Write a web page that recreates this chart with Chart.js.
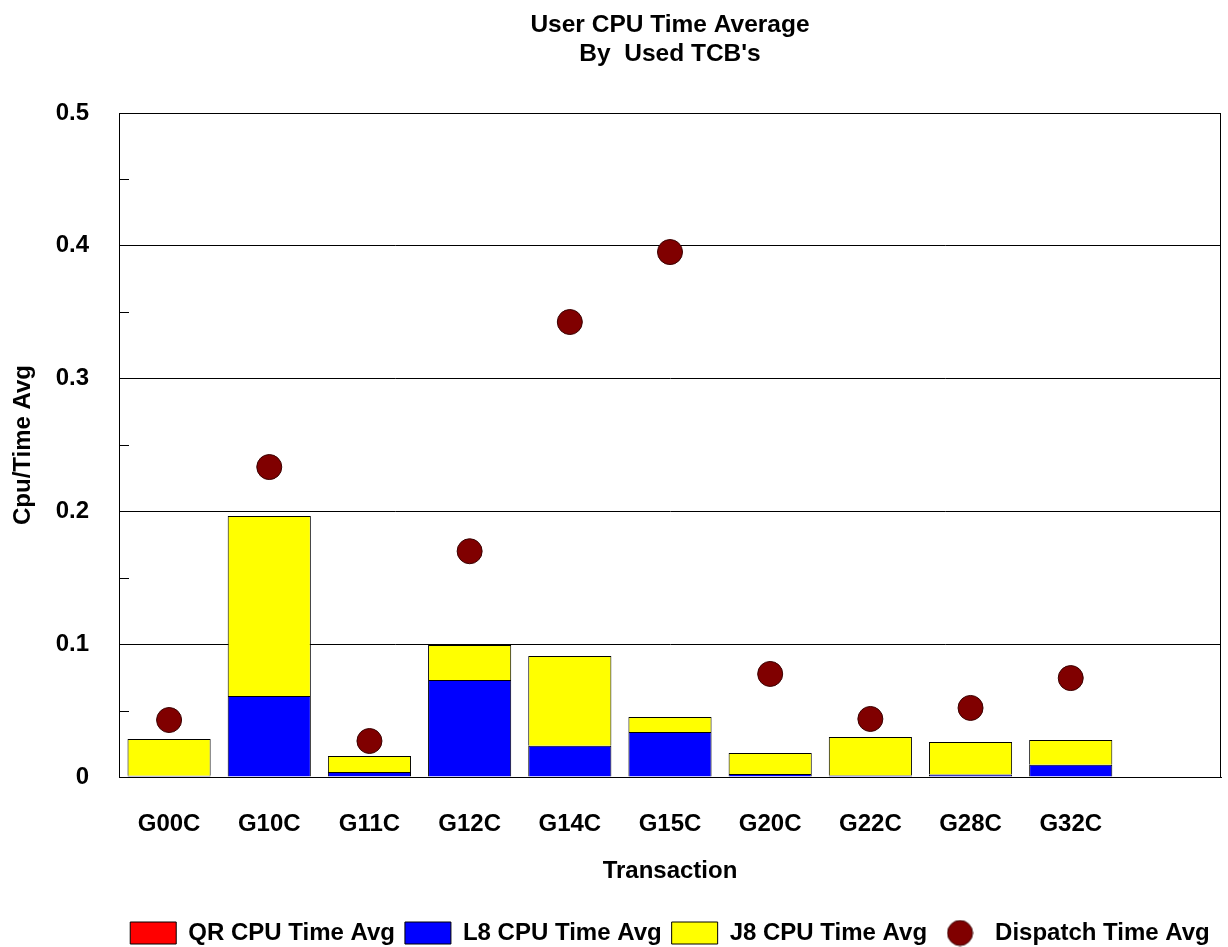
<!DOCTYPE html>
<html>
<head>
<meta charset="utf-8">
<script src="https://cdn.jsdelivr.net/npm/chart.js@4.4.1/dist/chart.umd.min.js"></script>
<style>
    html, body { margin: 0; padding: 0; background: #ffffff; }
    #wrap { width: 1228px; height: 947px; }
</style>
</head>
<body>
<div id="wrap"><canvas id="cpuChart" width="1228" height="947"></canvas></div>
<script>
// 거래별 데이터
const transactions = ['G00C', 'G10C', 'G11C', 'G12C', 'G14C', 'G15C', 'G20C', 'G22C', 'G28C', 'G32C', ''];
const qrCpuAvg = [0.0004, 0.0004, 0.0004, 0.0004, 0.0004, 0.0004, 0.0004, 0.0004, 0.0004, 0.0004, null];
const l8CpuAvg = [0.0005, 0.0606, 0.0034, 0.0726, 0.0231, 0.0335, 0.0019, 0.0008, 0.0015, 0.0088, null];
const j8CpuAvg = [0.0277, 0.1355, 0.0120, 0.0264, 0.0676, 0.0113, 0.0157, 0.0289, 0.0245, 0.0187, null];
const dispatchAvg = [0.0429, 0.2334, 0.0271, 0.1700, 0.3426, 0.3953, 0.0776, 0.0437, 0.0520, 0.0745, null];
const yTicks = [0, 0.1, 0.2, 0.3, 0.4, 0.5];

const FONT = "'Liberation Sans', Arial, sans-serif";
const COLORS = {
    qr: '#FF0000',
    l8: '#0000FF',
    j8: '#FFFF00',
    dispatch: '#800000'
};

// 범례용 원 아이콘
function dotIcon() {
    const c = document.createElement('canvas');
    c.width = 27;
    c.height = 27;
    const g = c.getContext('2d');
    g.beginPath();
    g.arc(13.5, 13.5, 12.5, 0, Math.PI * 2);
    g.fillStyle = COLORS.dispatch;
    g.fill();
    g.strokeStyle = '#3a0000';
    g.lineWidth = 1;
    g.stroke();
    return c;
}

// 테두리와 안쪽 보조 눈금
const framePlugin = {
    id: 'frame',
    afterDatasetsDraw(chart) {
        const { ctx, chartArea, scales } = chart;
        ctx.save();
        ctx.strokeStyle = '#000000';
        ctx.lineWidth = 1;
        ctx.strokeRect(chartArea.left + 0.5, chartArea.top + 0.5,
            chartArea.right - chartArea.left - 1, chartArea.bottom - chartArea.top);
        scales.y.ticks.forEach(t => {
            if (Math.round(t.value * 20) % 2 === 1) {
                const py = Math.round(scales.y.getPixelForValue(t.value)) + 0.5;
                ctx.beginPath();
                ctx.moveTo(chartArea.left, py);
                ctx.lineTo(chartArea.left + 10, py);
                ctx.stroke();
            }
        });
        ctx.restore();
    }
};

const cpuChart = new Chart(document.getElementById('cpuChart'), {
    type: 'bar',
    data: {
        labels: transactions,
        datasets: [
            {
                label: 'QR CPU Time Avg',
                data: qrCpuAvg,
                backgroundColor: COLORS.qr,
                borderColor: '#000000',
                borderWidth: 1,
                pointStyle: 'rect',
                stack: 'cpu'
            },
            {
                label: 'L8 CPU Time Avg',
                data: l8CpuAvg,
                backgroundColor: COLORS.l8,
                borderColor: '#000000',
                borderWidth: 1,
                pointStyle: 'rect',
                stack: 'cpu'
            },
            {
                label: 'J8 CPU Time Avg',
                data: j8CpuAvg,
                backgroundColor: COLORS.j8,
                borderColor: '#000000',
                borderWidth: 1,
                pointStyle: 'rect',
                stack: 'cpu'
            },
            {
                type: 'line',
                label: 'Dispatch Time Avg',
                data: dispatchAvg,
                showLine: false,
                stack: 'dispatch',
                order: -1,
                pointStyle: 'circle',
                pointRadius: 12.5,
                pointHoverRadius: 12.5,
                pointBackgroundColor: COLORS.dispatch,
                pointBorderColor: '#3a0000',
                pointBorderWidth: 1,
                backgroundColor: COLORS.dispatch,
                borderColor: '#3a0000'
            }
        ]
    },
    options: {
        responsive: false,
        animation: false,
        devicePixelRatio: 1,
        layout: {
            autoPadding: false,
            padding: { left: 0, right: 7, top: 0, bottom: -8 }
        },
        datasets: {
            bar: {
                barPercentage: 0.83,
                categoryPercentage: 1
            }
        },
        plugins: {
            title: {
                display: true,
                fullSize: false,
                text: ['User CPU Time Average', "By  Used TCB's"],
                color: '#000000',
                font: { family: FONT, size: 24.5, weight: 'bold', lineHeight: 1.2 },
                padding: { top: 10.5, bottom: 43.7 }
            },
            legend: {
                position: 'bottom',
                fullSize: false,
                labels: {
                    color: '#000000',
                    font: { family: FONT, size: 24, weight: 'bold' },
                    usePointStyle: true,
                    pointStyleWidth: 46,
                    boxHeight: 22,
                    padding: 10,
                    sort: (a, b) => a.datasetIndex - b.datasetIndex,
                    generateLabels(chart) {
                        const items = Chart.defaults.plugins.legend.labels.generateLabels(chart);
                        items.forEach(item => {
                            item.lineWidth = 1;
                            item.strokeStyle = '#000000';
                            if (item.datasetIndex === 3) {
                                item.pointStyle = dotIcon();
                            }
                        });
                        return items;
                    }
                }
            },
            tooltip: { enabled: false }
        },
        scales: {
            x: {
                stacked: true,
                grid: { display: false, drawTicks: false },
                border: { display: true, color: '#000000', width: 1 },
                ticks: {
                    color: '#000000',
                    font: { family: FONT, size: 24, weight: 'bold' },
                    padding: 33,
                    maxRotation: 0,
                    autoSkip: false
                },
                title: {
                    display: true,
                    text: 'Transaction',
                    color: '#000000',
                    font: { family: FONT, size: 24, weight: 'bold' },
                    padding: { top: 4, bottom: 25 }
                },
                afterFit(scale) {
                    scale.height = 134;
                }
            },
            y: {
                stacked: true,
                min: 0,
                max: 0.5,
                grid: {
                    drawTicks: false,
                    color: ctx => (Math.round(ctx.tick.value * 20) % 2 === 0 ? '#000000' : 'rgba(0,0,0,0)'),
                    lineWidth: 1
                },
                border: { display: true, color: '#000000', width: 1 },
                ticks: {
                    stepSize: 0.05,
                    color: '#000000',
                    font: { family: FONT, size: 24, weight: 'bold' },
                    padding: 30,
                    callback(value) {
                        const major = yTicks.find(t => Math.abs(t - value) < 1e-9);
                        if (major === undefined) return '';
                        return major === 0 ? '0' : major.toFixed(1);
                    }
                },
                title: {
                    display: true,
                    text: 'Cpu/Time Avg',
                    color: '#000000',
                    font: { family: FONT, size: 24, weight: 'bold' },
                    padding: { top: 9, bottom: 0 }
                },
                afterFit(scale) {
                    scale.width = 119;
                }
            }
        }
    },
    plugins: [framePlugin]
});
</script>
</body>
</html>
